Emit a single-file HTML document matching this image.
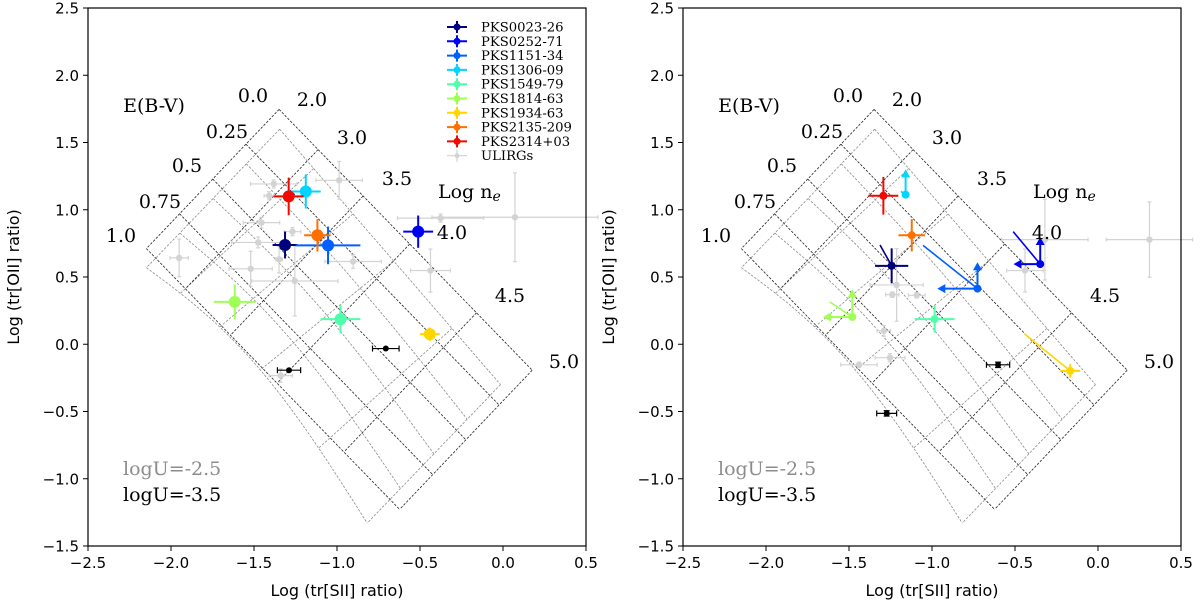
<!DOCTYPE html>
<html><head><meta charset="utf-8">
<style>
html,body{margin:0;padding:0;background:#fff;}
svg{display:block;}
.tick{font-family:"DejaVu Sans","Liberation Sans",sans-serif;font-size:15px;fill:#000;}
.ann{font-family:"DejaVu Serif","Liberation Serif",serif;font-size:19px;fill:#000;}
.leg{font-family:"DejaVu Serif","Liberation Serif",serif;font-size:13.2px;fill:#000;}
.lab{font-family:"DejaVu Sans","Liberation Sans",sans-serif;font-size:16px;fill:#000;}
</style></head>
<body>
<svg id="chart" width="1200" height="610" viewBox="0 0 1200 610" xmlns="http://www.w3.org/2000/svg"></svg>
<script>
// ---------- data ----------
const names = ["PKS0023-26","PKS0252-71","PKS1151-34","PKS1306-09","PKS1549-79","PKS1814-63","PKS1934-63","PKS2135-209","PKS2314+03"];
const colors = ["#00007f","#0000f1","#0060ff","#00d4ff","#4dffaa","#a0ff56","#ffd600","#ff7000","#f10800"];
// left panel
const leftX = [-1.313,-0.511,-1.054,-1.188,-0.979,-1.616,-0.441,-1.118,-1.291];
const leftY = [0.738,0.837,0.735,1.136,0.187,0.315,0.075,0.81,1.099];
const leftXerr = [0.075,0.09,0.195,0.09,0.12,0.126,0.06,0.08,0.09];
const leftYerr = [0.10,0.12,0.14,0.127,0.107,0.13,0.05,0.12,0.14];
const leftBlackX = [-1.289,-0.706];
const leftBlackY = [-0.193,-0.032];
const leftBlackXerr = [0.07,0.08];
const ulirgLX = [-1.381,-1.409,-0.987,-1.455,-1.268,-1.475,-1.349,-1.52,-1.254,-0.903,-1.951,-0.437,-0.376,0.072,-1.339];
const ulirgLY = [1.192,1.104,1.219,0.904,0.837,0.757,0.631,0.561,0.47,0.615,0.642,0.548,0.938,0.944,-0.233];
const ulirgLXerr = [0.14,0.03,0.14,0.11,0.05,0.16,0.02,0.13,0.26,0.17,0.055,0.12,0.26,0.5,0.07];
const ulirgLYerr = [0.03,0.03,0.14,0.04,0.03,0.04,0.1,0.13,0.26,0.05,0.14,0.16,0.03,0.33,0.05];
// right panel
const rightX = [-1.243,-0.348,-0.726,-1.159,-0.984,-1.48,-0.167,-1.122,-1.293];
const rightY = [0.583,0.596,0.414,1.112,0.187,0.203,-0.198,0.81,1.104];
const rightXerr = [0.1,0,0,0,0.12,0,0.06,0.08,0.09];
const rightYerr = [0.13,0,0,0,0.1,0,0.05,0.12,0.14];
const rightUpTo = [null,0.797,0.61,1.30,null,0.409,null,null,null];
const rightLeftTo = [null,-0.509,-0.968,null,null,-1.657,null,null,null];
const rightBlackX = [-0.602,-1.273];
const rightBlackY = [-0.153,-0.514];
const rightBlackXerr = [0.07,0.06];
const ulirgRX = [0.31,-0.32,-0.44,-1.213,-1.239,-1.092,-1.29,-1.253,-1.44];
const ulirgRY = [0.778,0.778,0.548,0.441,0.369,0.364,0.1,-0.1,-0.153];
const ulirgRXerr = [0.26,0.26,0.11,0.16,0.04,0.05,0.04,0.09,0.11];
const ulirgRYerr = [0.28,0.3,0.16,0.27,0.02,0.02,0.04,0.03,0.02];
// model grids
const ebvVals = [0,0.25,0.5,0.75,1.0];
const densFrac = [0,0.154,0.332,0.516,0.78,1.0];
const xTicks = [-2.5,-2.0,-1.5,-1.0,-0.5,0.0,0.5];
const yTicks = [2.5,2.0,1.5,1.0,0.5,0.0,-0.5,-1.0,-1.5];
const xTickLabels = ["\u22122.5","\u22122.0","\u22121.5","\u22121.0","\u22120.5","0.0","0.5"];
const yTickLabels = ["2.5","2.0","1.5","1.0","0.5","0.0","\u22120.5","\u22121.0","\u22121.5"];

const NS="http://www.w3.org/2000/svg";
const svg=document.getElementById('chart');
function mk(tag,attrs,parent){const e=document.createElementNS(NS,tag);for(const k in attrs)e.setAttribute(k,attrs[k]);(parent||svg).appendChild(e);return e;}

const TOP=8,BOT=546,W=498;
function makePanel(ox){
  const X=v=>ox+(v+2.5)*W/3;
  const Y=v=>TOP+(2.5-v)*(BOT-TOP)/4;
  return {X,Y,ox};
}

function drawGrid(p,g,name){
  const O=[-1.349,1.746],A=[-0.799,-1.035],B=[1.525,-1.939];
  const Og=[-1.345,1.599],Ag=[-0.803,-1.03],Bg=[1.33,-1.899];
  const P=(e,d)=>[O[0]+e*A[0]+d*B[0],O[1]+e*A[1]+d*B[1]];
  const Pg=(e,d)=>[Og[0]+e*Ag[0]+d*Bg[0], Og[1]+e*Ag[1]+d*Bg[1]+0.22*e*Math.sin(Math.PI*d)];
  const poly=(pts,stroke,nm)=>{
    const el=mk('polyline',{points:pts.map(q=>p.X(q[0]).toFixed(1)+','+p.Y(q[1]).toFixed(1)).join(' '),fill:'none',stroke:stroke,'stroke-width':0.8,'stroke-dasharray':'2.5,1.5'},g);
    
    
  };
  const steps=[];for(let i=0;i<=20;i++)steps.push(i/20);
  ebvVals.forEach(e=>poly(steps.map(s=>Pg(e,s)),'#8c8c8c','grid-logu-2.5-ebv-line'));
  densFrac.forEach(d=>poly(steps.map(s=>Pg(s,d)),'#8c8c8c','grid-logu-2.5-density-line'));
  ebvVals.forEach(e=>poly([P(e,0),P(e,1)],'#222','grid-logu-3.5-ebv-line'));
  densFrac.forEach(d=>poly([P(0,d),P(1,d)],'#222','grid-logu-3.5-density-line'));
}

function errbar(p,g,x,y,xe,ye,col,lw,r,cap,nm){
  const grp=mk('g',{},g);
  
  
  if(xe>0){mk('line',{x1:p.X(x-xe),x2:p.X(x+xe),y1:p.Y(y),y2:p.Y(y),stroke:col,'stroke-width':lw},grp);
    if(cap){[x-xe,x+xe].forEach(v=>mk('line',{x1:p.X(v),x2:p.X(v),y1:p.Y(y)-cap,y2:p.Y(y)+cap,stroke:col,'stroke-width':lw},grp));}}
  if(ye>0){mk('line',{x1:p.X(x),x2:p.X(x),y1:p.Y(y-ye),y2:p.Y(y+ye),stroke:col,'stroke-width':lw},grp);
    if(cap){[y-ye,y+ye].forEach(v=>mk('line',{x1:p.X(x)-cap,x2:p.X(x)+cap,y1:p.Y(v),y2:p.Y(v),stroke:col,'stroke-width':lw},grp));}}
  mk('circle',{cx:p.X(x),cy:p.Y(y),r:r,fill:col},grp);
  return grp;
}

function arrow(p,g,x1,y1,x2,y2,col){
  const ax=p.X(x1),ay=p.Y(y1),bx=p.X(x2),by=p.Y(y2);
  const dx=bx-ax,dy=by-ay,L=Math.hypot(dx,dy),ux=dx/L,uy=dy/L;
  const hl=8,hw=4.5;
  mk('line',{x1:ax,y1:ay,x2:bx-ux*hl*0.5,y2:by-uy*hl*0.5,stroke:col,'stroke-width':2},g);
  const bxs=bx-ux*hl,bys=by-uy*hl;
  mk('polygon',{points:`${bx},${by} ${bxs-uy*hw},${bys+ux*hw} ${bxs+uy*hw},${bys-ux*hw}`,fill:col},g);
}

function axes(p,idx){
  const g=mk('g',{});
  
  
  const fr=mk('rect',{x:p.ox,y:TOP,width:W,height:BOT-TOP,fill:'none',stroke:'#000','stroke-width':1.2},g);
  
  
  xTicks.forEach((v,i)=>{
    mk('line',{x1:p.X(v),x2:p.X(v),y1:BOT,y2:BOT+5,stroke:'#000','stroke-width':1},g);
    const t=mk('text',{x:p.X(v),y:BOT+22,'text-anchor':'middle',class:'tick'},g);t.textContent=xTickLabels[i];
    
    
  });
  yTicks.forEach((v,i)=>{
    mk('line',{x1:p.ox-5,x2:p.ox,y1:p.Y(v),y2:p.Y(v),stroke:'#000','stroke-width':1},g);
    const t=mk('text',{x:p.ox-9,y:p.Y(v)+5.5,'text-anchor':'end',class:'tick'},g);t.textContent=yTickLabels[i];
    
    
  });
  const xl=mk('text',{x:p.ox+W/2,y:596,'text-anchor':'middle',class:'lab'},g);xl.textContent='Log (tr[SII] ratio)';
  
  
  const yl=mk('text',{x:0,y:0,'text-anchor':'middle',class:'lab',transform:`translate(${p.ox-69},${(TOP+BOT)/2}) rotate(-90)`},g);yl.textContent='Log (tr[OII] ratio)';
  
  
  const ann=[["E(B-V)",154,112],["0.0",253,102],["2.0",312,106],["0.25",227,138],["3.0",352,144],["0.5",187,172],["3.5",397,185],["0.75",160,208],["1.0",121,242],["4.0",452,239],["4.5",510,302],["5.0",564,368]];
  ann.forEach(a=>{const t=mk('text',{x:a[1]-88+p.ox,y:a[2],'text-anchor':'middle',class:'ann'},g);t.textContent=a[0];
    
    });
  const ne=mk('text',{x:p.ox+350,y:198,class:'ann'},g);
  
  
  ne.innerHTML='Log n<tspan font-style="italic" font-size="14" dy="3">e</tspan>';
  const u1=mk('text',{x:p.ox+35,y:475,class:'ann',fill:'#8c8c8c'},g);u1.textContent='logU=-2.5';u1.style.fill='#8c8c8c';
  
  
  const u2=mk('text',{x:p.ox+35,y:501,class:'ann'},g);u2.textContent='logU=-3.5';
  
  
  return g;
}

// ---- left panel ----
const pL=makePanel(88);
const gL=mk('g',{});


drawGrid(pL,gL);
ulirgLX.forEach((x,i)=>errbar(pL,gL,x,ulirgLY[i],ulirgLXerr[i],ulirgLYerr[i],'#d3d3d3',1.2,3.2,2,'ulirg-point'));
leftBlackX.forEach((x,i)=>errbar(pL,gL,x,leftBlackY[i],leftBlackXerr[i],0,'#000',1.2,3,3,'black-point'));
names.forEach((n,i)=>errbar(pL,gL,leftX[i],leftY[i],leftXerr[i],leftYerr[i],colors[i],2,6,0,'point-'+n.toLowerCase()));
axes(pL,1);
// legend
const lg=mk('g',{});


names.concat(['ULIRGs']).forEach((n,i)=>{
  const y=27+i*14.3,col=i<names.length?colors[i]:'#d3d3d3',lw=i<names.length?2:1.2;
  const e=mk('g',{},lg);
  
  
  mk('line',{x1:447,x2:467,y1:y,y2:y,stroke:col,'stroke-width':lw},e);
  mk('line',{x1:457,x2:457,y1:y-6,y2:y+6,stroke:col,'stroke-width':lw},e);
  mk('circle',{cx:457,cy:y,r:i<names.length?3.5:2.5,fill:col},e);
  const t=mk('text',{x:481,y:y+4.5,class:'leg'},e);t.textContent=n;
});

// ---- right panel ----
const pR=makePanel(683);
const gR=mk('g',{});


drawGrid(pR,gR);
ulirgRX.forEach((x,i)=>errbar(pR,gR,x,ulirgRY[i],ulirgRXerr[i],ulirgRYerr[i],'#d3d3d3',1.2,3.2,2,'ulirg-point'));
rightBlackX.forEach((x,i)=>errbar(pR,gR,x,rightBlackY[i],rightBlackXerr[i],0.02,'#000',1.2,3,3,'black-point'));
names.forEach((n,i)=>{
  const g=mk('g',{},gR);
  
  
  mk('line',{x1:pR.X(leftX[i]),y1:pR.Y(leftY[i]),x2:pR.X(rightX[i]),y2:pR.Y(rightY[i]),stroke:colors[i],'stroke-width':1.6},g);
  if(rightUpTo[i]!==null)arrow(pR,g,rightX[i],rightY[i],rightX[i],rightUpTo[i],colors[i]);
  if(rightLeftTo[i]!==null)arrow(pR,g,rightX[i],rightY[i],rightLeftTo[i],rightY[i],colors[i]);
  errbar(pR,g,rightX[i],rightY[i],rightXerr[i],rightYerr[i],colors[i],2,4,0,'point-'+n.toLowerCase());
});
axes(pR,2);
</script>
</body></html>
